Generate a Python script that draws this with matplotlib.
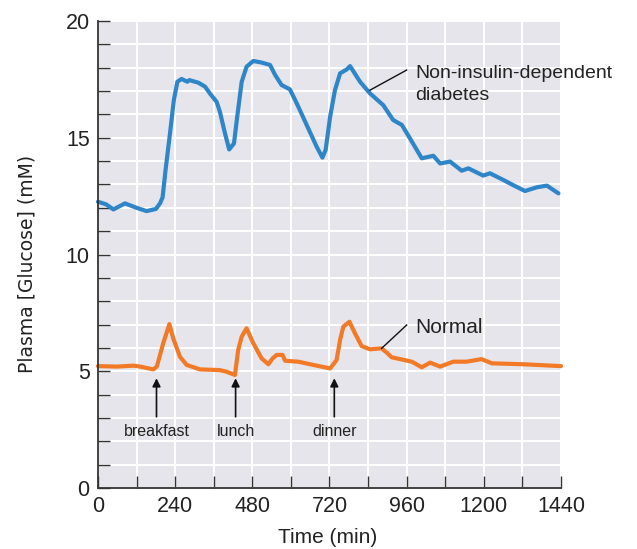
import matplotlib
matplotlib.use("Agg")
import matplotlib.pyplot as plt
from matplotlib.ticker import MultipleLocator

# Data (minutes, mM)
niddm_t = [0, 25, 48, 84, 120, 151, 180, 193, 201, 210, 224, 236, 247, 260, 278, 284,
           312, 333, 348, 369, 379, 395, 408, 423, 433, 447, 462, 483, 509, 535, 551,
           571, 597, 618, 649, 680, 698, 708, 722, 737, 753, 774, 784, 815, 846, 887,
           918, 945, 970, 1007, 1043, 1064, 1095, 1131, 1152, 1198, 1219, 1261, 1290,
           1328, 1365, 1396, 1432]
niddm_g = [12.26, 12.15, 11.93, 12.19, 12.0, 11.86, 11.95, 12.19, 12.45, 13.6, 15.19,
           16.62, 17.4, 17.52, 17.4, 17.47, 17.36, 17.19, 16.9, 16.54, 16.12, 15.19,
           14.5, 14.76, 15.9, 17.4, 18.04, 18.29, 18.22, 18.12, 17.69, 17.26, 17.07,
           16.48, 15.55, 14.62, 14.15, 14.48, 15.9, 17.04, 17.76, 17.93, 18.07, 17.4,
           16.9, 16.4, 15.76, 15.55, 14.98, 14.12, 14.23, 13.9, 13.98, 13.59, 13.69,
           13.38, 13.48, 13.19, 12.98, 12.72, 12.88, 12.95, 12.62]

normal_t = [0, 60, 110, 131, 172, 183, 203, 222, 234, 255, 276, 317, 379, 400, 426, 436,
            447, 462, 483, 509, 530, 543, 556, 574, 582, 623, 670, 722, 742, 753, 763,
            782, 799, 820, 846, 882, 898, 913, 976, 1007, 1033, 1064, 1105, 1146, 1193,
            1225, 1323, 1440]
normal_g = [5.22, 5.2, 5.24, 5.2, 5.08, 5.2, 6.2, 7.02, 6.41, 5.62, 5.27, 5.08, 5.05,
            4.98, 4.84, 5.91, 6.48, 6.84, 6.2, 5.55, 5.3, 5.55, 5.7, 5.7, 5.45, 5.41,
            5.27, 5.12, 5.48, 6.34, 6.91, 7.12, 6.63, 6.08, 5.94, 5.98, 5.8, 5.6, 5.41,
            5.17, 5.37, 5.2, 5.41, 5.41, 5.52, 5.34, 5.3, 5.22]

meal_names = ["breakfast", "lunch", "dinner"]
meal_times = [182, 428, 735]

x_ticks = [0, 240, 480, 720, 960, 1200, 1440]
y_ticks = [0, 5, 10, 15, 20]

plt.rcParams['font.family'] = ['Liberation Sans', 'DejaVu Sans']

fig = plt.figure(figsize=(6.37, 5.49), dpi=100)
ax = fig.add_axes([0.1538, 0.1111, 0.8807 - 0.1538, 0.9617 - 0.1111])
ax.set_facecolor('#e7e5ec')

ax.set_xlim(0, 1440)
ax.set_ylim(0, 20)
ax.xaxis.set_minor_locator(MultipleLocator(120))
ax.yaxis.set_minor_locator(MultipleLocator(1))
ax.set_xticks(x_ticks)
ax.set_yticks(y_ticks)
ax.grid(which='both', color='white', linewidth=1.4)
ax.set_axisbelow(True)

for s in ['top', 'right']:
    ax.spines[s].set_visible(False)
for s in ['left', 'bottom']:
    ax.spines[s].set_color('#333333')
    ax.spines[s].set_linewidth(1.3)

ax.tick_params(which='both', direction='in', length=8.5, width=1.0, color='#333333',
               labelsize=15.5, labelcolor='#222222')
ax.tick_params(axis='x', which='major', pad=6)
ax.tick_params(axis='y', which='major', pad=6)

ax.plot(niddm_t, niddm_g, color='#2e86c9', linewidth=3.0, solid_joinstyle='round',
        solid_capstyle='round', clip_on=False)
ax.plot(normal_t, normal_g, color='#f27a26', linewidth=3.0, solid_joinstyle='round',
        solid_capstyle='round', clip_on=False)

for name, t in zip(meal_names, meal_times):
    ax.annotate('', xy=(t, 4.7), xytext=(t, 3.05),
                arrowprops=dict(arrowstyle='-|>', color='#111111', lw=1.2,
                                mutation_scale=12, shrinkA=0, shrinkB=0))
    ax.text(t, 2.4, name, ha='center', va='center', fontsize=11.5, color='#222222')

ax.plot([846, 960], [17.04, 17.9], color='#111111', linewidth=1.0)
ax.text(986, 17.57, 'Non-insulin-dependent', ha='left', va='baseline',
        fontsize=14, color='#222222')
ax.text(986, 16.62, 'diabetes', ha='left', va='baseline',
        fontsize=14, color='#222222')
ax.plot([882, 960], [5.98, 6.98], color='#111111', linewidth=1.0)
ax.text(986, 6.62, 'Normal', ha='left', va='baseline', fontsize=15, color='#222222')

ax.set_xlabel('Time (min)', fontsize=15, color='#222222', va='center')
ax.xaxis.set_label_coords(0.497, -0.107)
ax.set_ylabel('Plasma [Glucose] (mM)', fontsize=13.5, color='#222222',
              family=['DejaVu Sans'], va='center')
ax.yaxis.set_label_coords(-0.153, 0.48)

fig.savefig('out.png', dpi=100)
